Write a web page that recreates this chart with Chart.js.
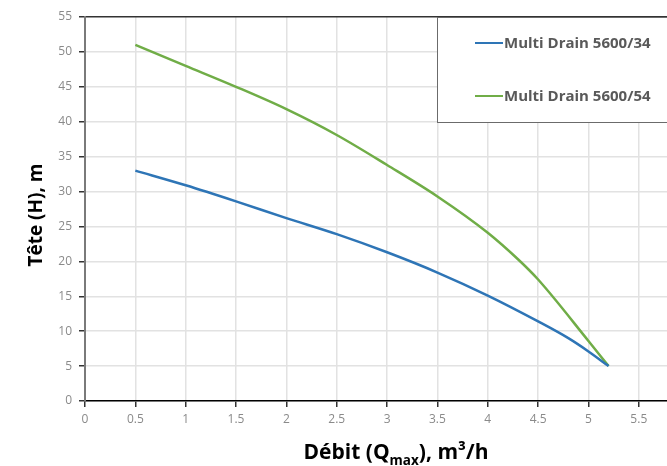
<!DOCTYPE html>
<html><head><meta charset="utf-8">
<script src="https://cdn.jsdelivr.net/npm/chart.js@4/dist/chart.umd.min.js"></script>
<style>html,body{margin:0;padding:0;background:#fff;overflow:hidden}#wrap{width:667px;height:466px;position:relative}</style>
</head><body><div id="wrap"><canvas id="c"></canvas></div>
<script>
const seriesNames = ['Multi Drain 5600/34', 'Multi Drain 5600/54'];
const flow34 = [0.5, 1, 1.5, 2, 2.5, 3, 3.5, 4, 4.5, 4.8, 5, 5.2];
const head34 = [33, 30.9, 28.6, 26.2, 23.9, 21.3, 18.4, 15.1, 11.4, 9.0, 7.1, 5];
const flow54 = [0.5, 1, 1.5, 2, 2.5, 3, 3.5, 4, 4.3, 4.5, 5, 5.2];
const head54 = [51, 48, 45, 41.8, 38.1, 33.8, 29.3, 24.1, 20.3, 17.4, 8.6, 5];
const xTicks = [0, 0.5, 1, 1.5, 2, 2.5, 3, 3.5, 4, 4.5, 5, 5.5];
const yTicks = [0, 5, 10, 15, 20, 25, 30, 35, 40, 45, 50, 55];
const xTitleParts = ['Débit (Q', 'max', '), m³/h'];
const yTitle = 'Tête (H), m';
const seriesColors = ['#2e75b6', '#70ad47'];

const pts = (xs, ys) => xs.map((x, i) => ({x: x, y: ys[i]}));

const overlay = {
  id: 'overlay',
  afterDraw(chart) {
    const ctx = chart.ctx;
    const ca = chart.chartArea;
    // legend box
    const bx = ca.right - 230, by = ca.top, bw = 240, bh = 105;
    ctx.save();
    ctx.fillStyle = '#fff';
    ctx.fillRect(bx, by, bw, bh);
    ctx.strokeStyle = '#6b6b6b';
    ctx.lineWidth = 1;
    ctx.strokeRect(bx + 0.5, by + 0.5, bw, bh);
    ctx.font = 'bold 15px "Open Sans"';
    ctx.textBaseline = 'middle';
    ctx.textAlign = 'left';
    chart.data.datasets.forEach((ds, i) => {
      const ly = by + 26 + i * 53;
      ctx.strokeStyle = ds.borderColor;
      ctx.lineWidth = 2;
      ctx.beginPath();
      ctx.moveTo(bx + 38, ly);
      ctx.lineTo(bx + 66, ly);
      ctx.stroke();
      ctx.fillStyle = '#595959';
      ctx.fillText(ds.label, bx + 67, ly + 1);
    });
    // x title with subscript
    const big = 'bold 21px "Open Sans"', small = 'bold 13.5px "Open Sans"';
    ctx.font = big; const w0 = ctx.measureText(xTitleParts[0]).width;
    const w2 = ctx.measureText(xTitleParts[2]).width;
    ctx.font = small; const w1 = ctx.measureText(xTitleParts[1]).width;
    const total = w0 + w1 + w2;
    let x = 396 - total / 2;
    const base = 459;
    ctx.fillStyle = '#000';
    ctx.textBaseline = 'alphabetic';
    ctx.font = big; ctx.fillText(xTitleParts[0], x, base); x += w0;
    ctx.font = small; ctx.fillText(xTitleParts[1], x, base + 6); x += w1;
    ctx.font = big; ctx.fillText(xTitleParts[2], x, base);
    // y title
    ctx.translate(37, 215);
    ctx.rotate(-Math.PI / 2);
    ctx.font = 'bold 19px "Open Sans"';
    ctx.textAlign = 'center';
    ctx.textBaseline = 'middle';
    ctx.fillText(yTitle, 0, 0);
    ctx.restore();
  }
};

new Chart(document.getElementById('c'), {
  type: 'line',
  data: {
    datasets: [
      {label: seriesNames[0], data: pts(flow34, head34), borderColor: seriesColors[0], backgroundColor: seriesColors[0], borderWidth: 2.5, pointRadius: 0, cubicInterpolationMode: 'monotone', fill: false},
      {label: seriesNames[1], data: pts(flow54, head54), borderColor: seriesColors[1], backgroundColor: seriesColors[1], borderWidth: 2.5, pointRadius: 0, cubicInterpolationMode: 'monotone', fill: false}
    ]
  },
  options: {
    responsive: true,
    maintainAspectRatio: false,
    animation: false,
    layout: {padding: {left: 0, top: 17, right: 0, bottom: 0}},
    plugins: {legend: {display: false}, tooltip: {enabled: false}},
    scales: {
      x: {
        type: 'linear', min: 0, max: 5.78,
        afterBuildTicks: s => { s.ticks = xTicks.map(v => ({value: v})); },
        afterFit: s => { s.height = 65; },
        grid: {color: '#e2e2e2', lineWidth: 1.5, tickColor: '#333', tickLength: 6},
        border: {color: '#000', width: 1.5},
        ticks: {font: {family: 'Open Sans', size: 12}, color: '#8a8a8a', padding: 5, maxRotation: 0, callback: v => String(v)}
      },
      y: {
        min: 0, max: 55,
        afterBuildTicks: s => { s.ticks = yTicks.map(v => ({value: v})); },
        afterFit: s => { s.width = 85; },
        grid: {color: c => (c.tick && c.tick.value === 55) ? '#333' : '#e2e2e2', lineWidth: 1.5, tickColor: '#333', tickLength: 6},
        border: {color: '#7a7a7a', width: 2},
        ticks: {font: {family: 'Open Sans', size: 12}, color: '#8a8a8a', padding: 7, callback: v => String(v)}
      }
    }
  },
  plugins: [overlay]
});
</script>
</body></html>
